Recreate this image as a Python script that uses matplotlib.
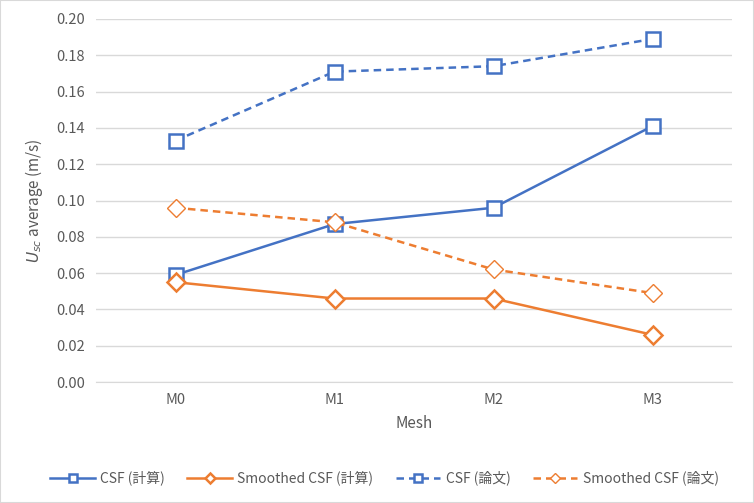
import numpy as np
import matplotlib.pyplot as plt

plt.rcParams['font.family'] = ['Noto Sans CJK JP', 'DejaVu Sans']

meshes = ['M0', 'M1', 'M2', 'M3']
csf_calc = [0.059, 0.087, 0.096, 0.141]
smooth_calc = [0.055, 0.046, 0.046, 0.026]
csf_paper = [0.133, 0.171, 0.174, 0.189]
smooth_paper = [0.096, 0.088, 0.062, 0.049]
yticks = [0.00, 0.02, 0.04, 0.06, 0.08, 0.10, 0.12, 0.14, 0.16, 0.18, 0.20]

blue = '#4472C4'
orange = '#ED7D31'
grey = '#595959'

fig = plt.figure(figsize=(7.54, 5.03), dpi=100)
ax = fig.add_axes([96/754, 1-382/503, (732-96)/754, (382-19)/503])
x = np.arange(len(meshes))

ax.plot(x, csf_calc, color=blue, lw=1.8, marker='s', ms=10, mfc='white', mec=blue, mew=1.8,
        label='CSF (計算)', zorder=3)
ax.plot(x, smooth_calc, color=orange, lw=1.8, marker='D', ms=9, mfc='white', mec=orange, mew=1.8,
        label='Smoothed CSF (計算)', zorder=3)
ax.plot(x, csf_paper, color=blue, lw=1.8, ls=(0, (3, 2)), marker='s', ms=10, mfc='white', mec=blue,
        mew=1.8, label='CSF (論文)', zorder=3)
ax.plot(x, smooth_paper, color=orange, lw=1.8, ls=(0, (3, 2)), marker='D', ms=9, mfc='white',
        mec=orange, mew=1.0, label='Smoothed CSF (論文)', zorder=3)

ax.set_xlim(-0.5, 3.5)
ax.set_ylim(0, 0.20)
ax.set_xticks(x)
ax.set_xticklabels(meshes)
ax.set_yticks(yticks)
ax.set_yticklabels(['%.2f' % v for v in yticks])
ax.tick_params(length=0, colors=grey, labelsize=10.5, pad=8)
ax.grid(axis='y', color='#D9D9D9', lw=1)
ax.set_axisbelow(True)
for s in ['top', 'right', 'left']:
    ax.spines[s].set_visible(False)
ax.spines['bottom'].set_color('#D9D9D9')

ax.set_xlabel('Mesh', color=grey, fontsize=11, labelpad=6)
ax.set_ylabel(r'$U_{sc}$ average (m/s)', color=grey, fontsize=11, labelpad=8)

fig.legend(loc='lower center', bbox_to_anchor=(0.51, 0.01), ncol=4, frameon=False,
           fontsize=10, labelcolor=grey, handlelength=3.2, columnspacing=1.6, handletextpad=0.4,
           markerscale=0.55)

fig.patches.append(plt.Rectangle((0, 0), 1, 1, transform=fig.transFigure, fill=False,
                                 edgecolor='#D9D9D9', lw=1.5))
fig.savefig('out.png', dpi=100)
